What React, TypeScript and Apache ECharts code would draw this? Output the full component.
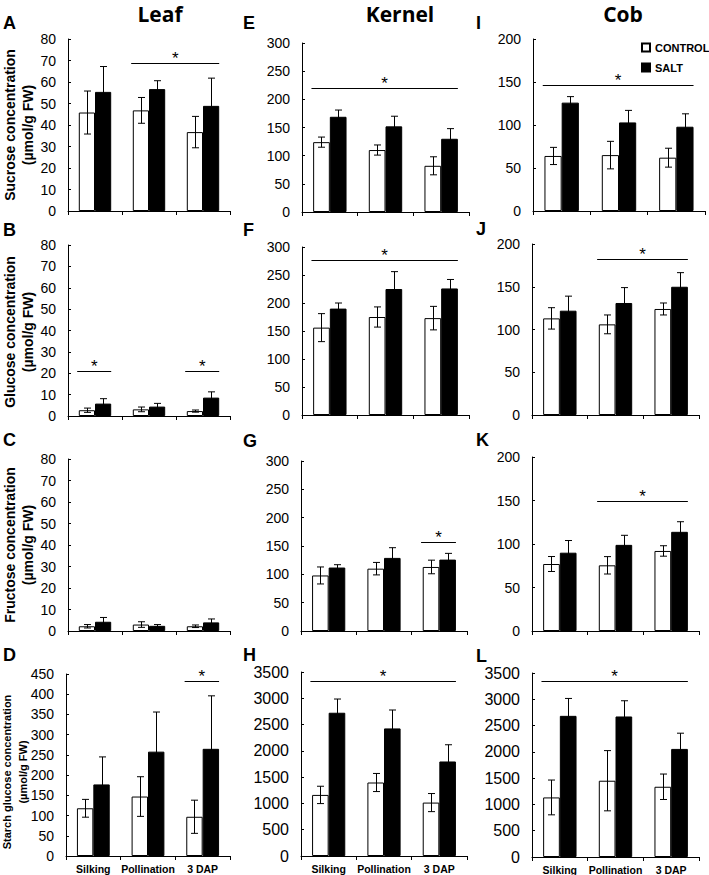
import React, { useEffect, useRef } from 'react';
import * as echarts from 'echarts';

const categories = ['Silking', 'Pollination', '3 DAP'];
const seriesNames = ['CONTROL', 'SALT'];

// Leaf
const leafSucroseCtrl = [45.8, 46.8, 36.7];
const leafSucroseCtrlErr = [10.0, 6.0, 7.3];
const leafSucroseSalt = [55.4, 56.7, 48.9];
const leafSucroseSaltErr = [11.8, 3.9, 12.9];
const leafGlucoseCtrl = [2.7, 3.1, 2.3];
const leafGlucoseCtrlErr = [1.0, 1.1, 0.5];
const leafGlucoseSalt = [5.8, 4.4, 8.6];
const leafGlucoseSaltErr = [2.3, 1.5, 2.7];
const leafFructoseCtrl = [2.2, 3.0, 2.2];
const leafFructoseCtrlErr = [0.8, 1.3, 0.6];
const leafFructoseSalt = [4.3, 2.4, 4.0];
const leafFructoseSaltErr = [2.0, 0.6, 1.6];
const leafStarchCtrl = [118, 147, 97];
const leafStarchCtrlErr = [22, 49, 41];
const leafStarchSalt = [177, 258, 265];
const leafStarchSaltErr = [68, 98, 131];

// Kernel
const kernelSucroseCtrl = [124, 110, 82];
const kernelSucroseCtrlErr = [9, 9, 16];
const kernelSucroseSalt = [169, 152, 130];
const kernelSucroseSaltErr = [12, 18, 18];
const kernelGlucoseCtrl = [156, 175, 173];
const kernelGlucoseCtrlErr = [25, 18, 21];
const kernelGlucoseSalt = [190, 225, 226];
const kernelGlucoseSaltErr = [10, 31, 16];
const kernelFructoseCtrl = [98, 110, 113];
const kernelFructoseCtrlErr = [15, 11, 12];
const kernelFructoseSalt = [112, 129, 126];
const kernelFructoseSaltErr = [5, 18, 11];
const kernelStarchCtrl = [1162, 1398, 1016];
const kernelStarchCtrlErr = [165, 172, 172];
const kernelStarchSalt = [2725, 2427, 1798];
const kernelStarchSaltErr = [261, 350, 318];

// Cob
const cobSucroseCtrl = [64, 65, 62];
const cobSucroseCtrlErr = [10, 16, 11];
const cobSucroseSalt = [126, 103, 98];
const cobSucroseSaltErr = [7, 14, 15];
const cobGlucoseCtrl = [113, 106, 124];
const cobGlucoseCtrlErr = [12.5, 11, 7];
const cobGlucoseSalt = [122, 131, 150];
const cobGlucoseSaltErr = [17, 18, 16.5];
const cobFructoseCtrl = [77, 75.5, 92];
const cobFructoseCtrlErr = [8.6, 10, 6];
const cobFructoseSalt = [90, 99, 114];
const cobFructoseSaltErr = [14, 11, 11.6];
const cobStarchCtrl = [1133, 1451, 1336];
const cobStarchCtrlErr = [331, 573, 242];
const cobStarchSalt = [2685, 2673, 2056];
const cobStarchSaltErr = [331, 299, 299];

// significance bars: [first category, last category, height]
const sigA = [[1, 2, 69]];
const sigB = [[0, 0, 21], [2, 2, 21]];
const sigC: number[][] = [];
const sigD = [[2, 2, 433]];
const sigE = [[0, 2, 220]];
const sigF = [[0, 2, 277]];
const sigG = [[2, 2, 157]];
const sigH = [[0, 2, 3320]];
const sigI = [[0, 2, 146]];
const sigJ = [[1, 2, 183]];
const sigK = [[1, 2, 150]];
const sigL = [[0, 2, 3350]];

// y-axis ticks
const leafSugarTicks = { max: 80, interval: 10 };
const leafStarchTicks = { max: 450, interval: 50 };
const kernelSugarTicks = { max: 300, interval: 50 };
const starchTicks = { max: 3500, interval: 500 };
const cobSugarTicks = { max: 200, interval: 50 };

const FONT = '"Liberation Sans", Arial, sans-serif';

type Panel = {
  letter: string;
  box: number[]; // left, top, width, height
  ctrl: number[]; ctrlErr: number[]; salt: number[]; saltErr: number[];
  ticks: { max: number; interval: number };
  sig: number[][];
  bottom: boolean;
  labelSize: number;
};

const panels: Panel[] = [
  { letter: 'A', box: [68, 39, 162, 172], ctrl: leafSucroseCtrl, ctrlErr: leafSucroseCtrlErr, salt: leafSucroseSalt, saltErr: leafSucroseSaltErr, ticks: leafSugarTicks, sig: sigA, bottom: false, labelSize: 14 },
  { letter: 'B', box: [68, 245, 162, 171], ctrl: leafGlucoseCtrl, ctrlErr: leafGlucoseCtrlErr, salt: leafGlucoseSalt, saltErr: leafGlucoseSaltErr, ticks: leafSugarTicks, sig: sigB, bottom: false, labelSize: 14 },
  { letter: 'C', box: [68, 459, 162, 172], ctrl: leafFructoseCtrl, ctrlErr: leafFructoseCtrlErr, salt: leafFructoseSalt, saltErr: leafFructoseSaltErr, ticks: leafSugarTicks, sig: sigC, bottom: false, labelSize: 14 },
  { letter: 'D', box: [66, 674, 164, 182], ctrl: leafStarchCtrl, ctrlErr: leafStarchCtrlErr, salt: leafStarchSalt, saltErr: leafStarchSaltErr, ticks: leafStarchTicks, sig: sigD, bottom: true, labelSize: 14 },
  { letter: 'E', box: [302, 43, 167, 169], ctrl: kernelSucroseCtrl, ctrlErr: kernelSucroseCtrlErr, salt: kernelSucroseSalt, saltErr: kernelSucroseSaltErr, ticks: kernelSugarTicks, sig: sigE, bottom: false, labelSize: 14 },
  { letter: 'F', box: [302, 247, 167, 168], ctrl: kernelGlucoseCtrl, ctrlErr: kernelGlucoseCtrlErr, salt: kernelGlucoseSalt, saltErr: kernelGlucoseSaltErr, ticks: kernelSugarTicks, sig: sigF, bottom: false, labelSize: 14 },
  { letter: 'G', box: [301, 461, 166, 170], ctrl: kernelFructoseCtrl, ctrlErr: kernelFructoseCtrlErr, salt: kernelFructoseSalt, saltErr: kernelFructoseSaltErr, ticks: kernelSugarTicks, sig: sigG, bottom: false, labelSize: 14 },
  { letter: 'H', box: [301, 672, 166, 184], ctrl: kernelStarchCtrl, ctrlErr: kernelStarchCtrlErr, salt: kernelStarchSalt, saltErr: kernelStarchSaltErr, ticks: starchTicks, sig: sigH, bottom: true, labelSize: 16 },
  { letter: 'I', box: [533, 39, 172, 172], ctrl: cobSucroseCtrl, ctrlErr: cobSucroseCtrlErr, salt: cobSucroseSalt, saltErr: cobSucroseSaltErr, ticks: cobSugarTicks, sig: sigI, bottom: false, labelSize: 14 },
  { letter: 'J', box: [532, 244, 167, 171], ctrl: cobGlucoseCtrl, ctrlErr: cobGlucoseCtrlErr, salt: cobGlucoseSalt, saltErr: cobGlucoseSaltErr, ticks: cobSugarTicks, sig: sigJ, bottom: false, labelSize: 14 },
  { letter: 'K', box: [532, 457, 167, 174], ctrl: cobFructoseCtrl, ctrlErr: cobFructoseCtrlErr, salt: cobFructoseSalt, saltErr: cobFructoseSaltErr, ticks: cobSugarTicks, sig: sigK, bottom: false, labelSize: 14 },
  { letter: 'L', box: [532, 673, 167, 184], ctrl: cobStarchCtrl, ctrlErr: cobStarchCtrlErr, salt: cobStarchSalt, saltErr: cobStarchSaltErr, ticks: starchTicks, sig: sigL, bottom: true, labelSize: 16 },
];

const letterPos: Record<string, number[]> = {
  A: [3, 23], B: [3, 230], C: [3, 440], D: [3, 655],
  E: [243, 23], F: [243, 230], G: [243, 441], H: [243, 655],
  I: [476, 23], J: [476, 229], K: [476, 440], L: [476, 656],
};

const titles = [
  { text: 'Leaf', x: 160, y: 14 },
  { text: 'Kernel', x: 400, y: 14 },
  { text: 'Cob', x: 623, y: 14 },
];

const yNames = [
  { text: 'Sucrose concentration\n(µmol/g FW)', x: 19, y: 125, size: 14, lh: 18 },
  { text: 'Glucose concentration\n(µmol/g FW)', x: 19, y: 332, size: 14, lh: 18 },
  { text: 'Fructose concentration\n(µmol/g FW)', x: 19, y: 545, size: 14, lh: 18 },
  { text: 'Starch glucose concentration\n(µmol/g FW)', x: 15, y: 772, size: 11, lh: 16 },
];

function errRender(params: any, api: any) {
  const cat = api.value(0);
  const mean = api.value(1);
  const err = api.value(2);
  const side = api.value(3);
  const band = api.size([1, 0])[0];
  const top = api.coord([cat, mean + err]);
  const bot = api.coord([cat, Math.max(0, mean - err)]);
  const x = Math.round(top[0] + side * band * 0.15) + 0.5;
  const cap = 3.5;
  const st = { stroke: '#000', lineWidth: 1 };
  return {
    type: 'group',
    children: [
      { type: 'line', shape: { x1: x, y1: top[1], x2: x, y2: bot[1] }, style: st },
      { type: 'line', shape: { x1: x - cap, y1: top[1], x2: x + cap, y2: top[1] }, style: st },
      { type: 'line', shape: { x1: x - cap, y1: bot[1], x2: x + cap, y2: bot[1] }, style: st },
    ],
  };
}

function sigRender(params: any, api: any) {
  const p0 = api.coord([api.value(0), api.value(2)]);
  const p1 = api.coord([api.value(1), api.value(2)]);
  const band = api.size([1, 0])[0];
  const x0 = p0[0] - 0.33 * band;
  const x1 = p1[0] + 0.3 * band;
  const y = Math.round(p0[1]) + 0.5;
  return {
    type: 'group',
    children: [
      { type: 'line', shape: { x1: x0, y1: y, x2: x1, y2: y }, style: { stroke: '#000', lineWidth: 1.2 } },
      {
        type: 'text',
        x: (x0 + x1) / 2,
        y: y - 5,
        style: { text: '*', fill: '#000', font: `17px ${FONT}`, align: 'center', verticalAlign: 'middle' },
      },
    ],
  };
}

export default function App() {
  const ref = useRef<HTMLDivElement>(null);

  useEffect(() => {
    document.body.style.margin = '0';
    if (!ref.current) return;
    const chart = echarts.init(ref.current, undefined, { renderer: 'svg' });

    const grid: any[] = [];
    const xAxis: any[] = [];
    const yAxis: any[] = [];
    const series: any[] = [];

    panels.forEach((p, i) => {
      grid.push({ left: p.box[0], top: p.box[1], width: p.box[2], height: p.box[3], containLabel: false });
      xAxis.push({
        type: 'category',
        gridIndex: i,
        data: categories,
        boundaryGap: true,
        axisLine: { show: true, lineStyle: { color: '#000', width: 1 } },
        axisTick: { show: true, length: 4, inside: false, alignWithLabel: false, lineStyle: { color: '#000' } },
        axisLabel: {
          show: p.bottom,
          color: '#000',
          fontFamily: FONT,
          fontWeight: 'bold',
          fontSize: 10.5,
          margin: 7,
          interval: 0,
        },
        splitLine: { show: false },
      });
      yAxis.push({
        type: 'value',
        gridIndex: i,
        min: 0,
        max: p.ticks.max,
        interval: p.ticks.interval,
        axisLine: { show: true, lineStyle: { color: '#000', width: 1 } },
        axisTick: { show: true, inside: true, length: 3, lineStyle: { color: '#000' } },
        axisLabel: {
          color: '#000',
          fontFamily: FONT,
          fontSize: p.labelSize,
          margin: 12,
          formatter: (v: number) => String(v),
        },
        splitLine: { show: false },
      });
      series.push({
        type: 'bar',
        name: seriesNames[0],
        xAxisIndex: i,
        yAxisIndex: i,
        data: p.ctrl,
        barWidth: '30%',
        barGap: '0%',
        itemStyle: { color: '#fff', borderColor: '#000', borderWidth: 1 },
        emphasis: { disabled: true },
      });
      series.push({
        type: 'bar',
        name: seriesNames[1],
        xAxisIndex: i,
        yAxisIndex: i,
        data: p.salt,
        barWidth: '30%',
        barGap: '0%',
        itemStyle: { color: '#000', borderColor: '#000', borderWidth: 1 },
        emphasis: { disabled: true },
      });
      const errData: number[][] = [];
      p.ctrl.forEach((v, k) => errData.push([k, v, p.ctrlErr[k], -1]));
      p.salt.forEach((v, k) => errData.push([k, v, p.saltErr[k], 1]));
      series.push({
        type: 'custom',
        xAxisIndex: i,
        yAxisIndex: i,
        z: 5,
        renderItem: errRender,
        encode: { x: 0, y: 1 },
        data: errData,
        silent: true,
      });
      if (p.sig.length) {
        series.push({
          type: 'custom',
          xAxisIndex: i,
          yAxisIndex: i,
          z: 5,
          renderItem: sigRender,
          encode: { x: 0, y: 2 },
          data: p.sig,
          silent: true,
        });
      }
    });

    const graphic: any[] = [];
    titles.forEach((t) =>
      graphic.push({
        type: 'text',
        x: t.x,
        y: t.y,
        style: { text: t.text, fill: '#000', font: `bold 21px "Open Sans", sans-serif`, align: 'center', verticalAlign: 'middle' },
      })
    );
    Object.keys(letterPos).forEach((k) =>
      graphic.push({
        type: 'text',
        x: letterPos[k][0],
        y: letterPos[k][1],
        style: { text: k, fill: '#000', font: `bold 18px ${FONT}`, align: 'left', verticalAlign: 'middle' },
      })
    );
    yNames.forEach((n) =>
      graphic.push({
        type: 'text',
        x: n.x,
        y: n.y,
        rotation: Math.PI / 2,
        style: {
          text: n.text,
          fill: '#000',
          font: `bold ${n.size}px ${FONT}`,
          lineHeight: n.lh,
          align: 'center',
          verticalAlign: 'middle',
        },
      })
    );

    chart.setOption({
      animation: false,
      backgroundColor: '#fff',
      grid,
      xAxis,
      yAxis,
      series,
      graphic,
      legend: {
        data: seriesNames,
        orient: 'vertical',
        left: 636,
        top: 37,
        itemWidth: 8,
        itemHeight: 8,
        itemGap: 9,
        icon: 'rect',
        selectedMode: false,
        textStyle: { color: '#000', fontFamily: FONT, fontSize: 11, fontWeight: 'bold' },
      },
    });

    return () => chart.dispose();
  }, []);

  return <div ref={ref} style={{ width: 709, height: 875 }} />;
}
